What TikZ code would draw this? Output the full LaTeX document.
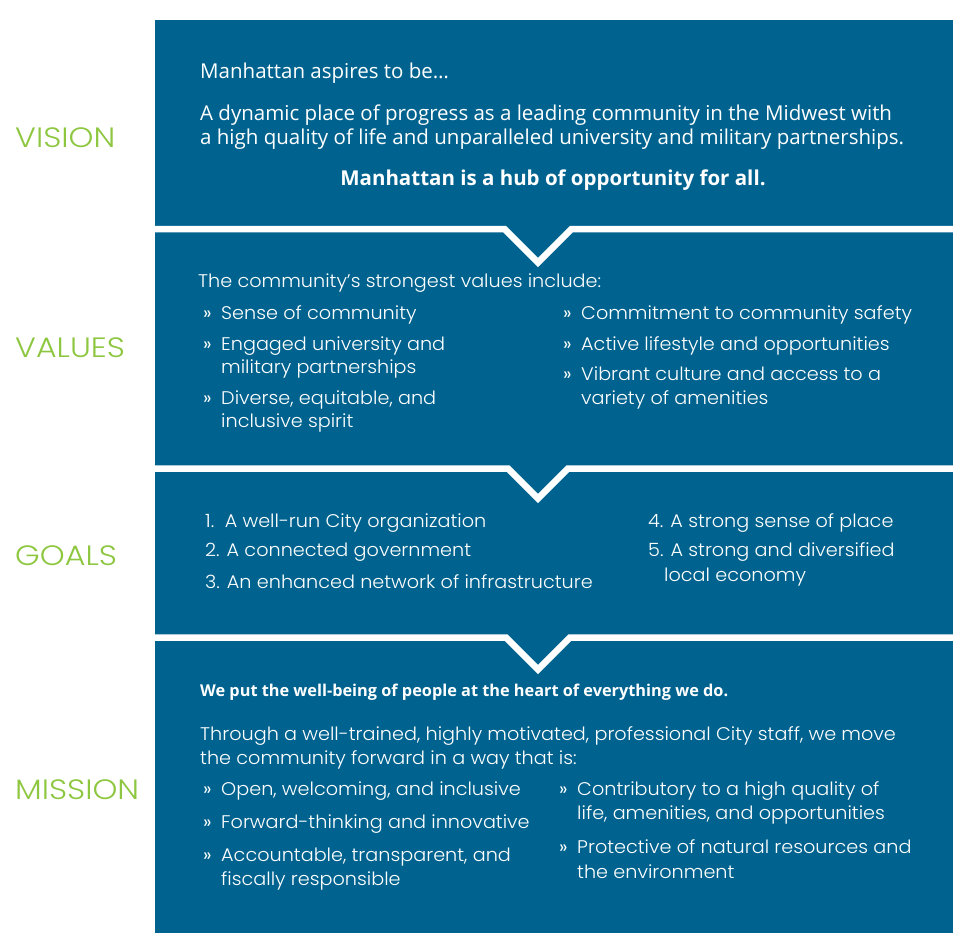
\documentclass[tikz,border=0pt]{standalone}
\usepackage{fontspec}
\newfontfamily\mont{Poppins Light}[FakeStretch=1.05]
\newfontfamily\montlab{Poppins Light}[FakeStretch=1.13]
\newfontfamily\montb{Poppins}
\newfontfamily\segoe{Open Sans}
\newcommand\segoesb{\segoe\bfseries}
\definecolor{panel}{RGB}{0,99,143}
\definecolor{lbl}{RGB}{141,198,63}
\newcommand\blt{\makebox[18pt][l]{{\montb »}}}
\begin{document}
\begin{tikzpicture}[x=1pt,y=-1pt,
  sep/.style={draw=white,line width=6.5pt,miter limit=10},
  lab/.style={anchor=west,inner sep=0pt,text=lbl,font=\montlab\fontsize{28}{28}\selectfont},
  vtext/.style={anchor=mid west,inner sep=0pt,text=white,font=\segoe\fontsize{20.5}{24}\selectfont},
  vbold/.style={anchor=mid,inner sep=0pt,text=white,font=\segoesb\fontsize{20.5}{24}\selectfont},
  mbold/.style={anchor=mid west,inner sep=0pt,text=white,font=\segoesb\fontsize{16.3}{20}\selectfont},
  btext/.style={anchor=mid west,inner sep=0pt,text=white,font=\mont\fontsize{18.3}{22}\selectfont}]
\useasboundingbox (0,0) rectangle (971,951);
% panels
\fill[panel] (155,20) rectangle (953,933);
\draw[sep] (150,229) -- (504.5,229) -- (538,262.5) -- (571.5,229) -- (958,229);
\draw[sep] (150,468.5) -- (508,468.5) -- (538,498.5) -- (568,468.5) -- (958,468.5);
\draw[sep] (150,637.5) -- (506,637.5) -- (538,669.5) -- (570,637.5) -- (958,637.5);
% labels
\node[lab] (lvision) at (15,138) {VISION};
\node[lab] (lvalues) at (15,348) {VALUES};
\node[lab] (lgoals) at (15,556) {GOALS};
\node[lab] (lmission) at (15,790) {MISSION};
% vision
\node[vtext] (v1) at (200,76.5) {Manhattan aspires to be…};
\node[vtext] (v2a) at (200,118.5) {A dynamic place of progress as a leading community in the Midwest with};
\node[vtext] (v2b) at (200,142.5) {a high quality of life and unparalleled university and military partnerships.};
\node[vbold] (v3) at (553,183) {Manhattan is a hub of opportunity for all.};
% values
\node[btext] (va0) at (198,285.5) {The community’s strongest values include:};
\node[btext] (va1) at (203,317) {\blt Sense of community};
\node[btext] (va2a) at (203,348.5) {\blt Engaged university and};
\node[btext] (va2b) at (221,371.5) {military partnerships};
\node[btext] (va3a) at (203,402.5) {\blt Diverse, equitable, and};
\node[btext] (va3b) at (221,425.5) {inclusive spirit};
\node[btext] (va4) at (563,317) {\blt Commitment to community safety};
\node[btext] (va5) at (563,348.5) {\blt Active lifestyle and opportunities};
\node[btext] (va6a) at (563,378.5) {\blt Vibrant culture and access to a};
\node[btext] (va6b) at (581,402.5) {variety of amenities};
% goals
\node[btext] (g1) at (205,525) {1.\ \ A well-run City organization};
\node[btext] (g2) at (205,554) {2. A connected government};
\node[btext] (g3) at (205,586.5) {3. An enhanced network of infrastructure};
\node[btext] (g4) at (648,525) {4. A strong sense of place};
\node[btext] (g5a) at (648,554) {5. A strong and diversified};
\node[btext] (g5b) at (664,579) {local economy};
% mission
\node[mbold] (m0) at (200,694.5) {We put the well-being of people at the heart of everything we do.};
\node[btext] (m1a) at (200,738.5) {Through a well-trained, highly motivated, professional City staff, we move};
\node[btext] (m1b) at (200,762.5) {the community forward in a way that is:};
\node[btext] (m2) at (203,793.5) {\blt Open, welcoming, and inclusive};
\node[btext] (m3) at (203,826.5) {\blt Forward-thinking and innovative};
\node[btext] (m4a) at (203,859.5) {\blt Accountable, transparent, and};
\node[btext] (m4b) at (221,883.5) {fiscally responsible};
\node[btext] (m5a) at (559,793.5) {\blt Contributory to a high quality of};
\node[btext] (m5b) at (577,817.5) {life, amenities, and opportunities};
\node[btext] (m6a) at (559,851.5) {\blt Protective of natural resources and};
\node[btext] (m6b) at (577,876.5) {the environment};
\end{tikzpicture}
\end{document}
